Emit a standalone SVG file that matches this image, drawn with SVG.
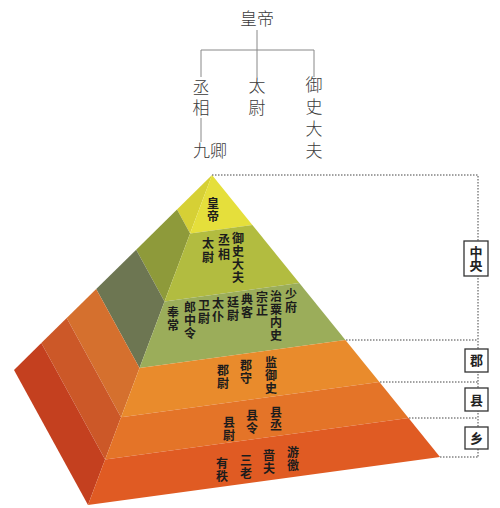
<svg xmlns="http://www.w3.org/2000/svg" width="500" height="508" viewBox="0 0 500 508">
<style>
.tree{font-family:"Noto Sans CJK SC","Noto Sans CJK JP",sans-serif;font-size:17px;font-weight:300;fill:#3a3a3a}
.v{writing-mode:vertical-rl}
.pt{font-family:"Noto Sans CJK SC","Noto Sans CJK JP",sans-serif;font-size:12px;font-weight:bold;fill:#1c1c1c;writing-mode:vertical-rl}
.bl{font-family:"Noto Sans CJK SC","Noto Sans CJK JP",sans-serif;font-size:13px;font-weight:bold;fill:#222}
.tl{stroke:#888;stroke-width:1;fill:none}
.dot{stroke:#444;stroke-width:1;stroke-dasharray:1.5 1.5;fill:none}
.box{fill:#fff;stroke:#333;stroke-width:1.3}
</style>
<rect width="500" height="508" fill="#fff"/>
<g id="tree">
<text class="tree" x="257" y="25" text-anchor="middle">皇帝</text>
<path class="tl" d="M257,30V77M201,50H314M201,50V77M314,50V77M201,118V142"/>
<text class="tree v" x="201" y="79" letter-spacing="3">丞相</text>
<text class="tree v" x="257" y="77" letter-spacing="5">太尉</text>
<text class="tree v" x="314" y="76" letter-spacing="5">御史大夫</text>
<text class="tree" x="210" y="157" text-anchor="middle">九卿</text>
</g>
<g id="pyramid">
<polygon points="212,175 177,209.5 190.1,233.4" fill="#d6d035"/>
<polygon points="177,209.5 136.2,249.7 164.5,301.4 190.1,233.4" fill="#8e9a3a"/>
<polygon points="136.2,249.7 96.2,289.1 139.5,368.1 164.5,301.4" fill="#6d7652"/>
<polygon points="96.2,289.1 66.7,318.1 121,417.2 139.5,368.1" fill="#d5702e"/>
<polygon points="66.7,318.1 41.3,343.1 105.1,459.5 121,417.2" fill="#cc5828"/>
<polygon points="41.3,343.1 14,370 88,505 105.1,459.5" fill="#c4401f"/>
<polygon points="212,175 252.4,224.9 190.1,233.4" fill="#e5df3b"/>
<polygon points="190.1,233.4 252.4,224.9 299.3,283 164.5,301.4" fill="#b2bc40"/>
<polygon points="164.5,301.4 299.3,283 345.4,340 139.5,368.1" fill="#9bad5a"/>
<polygon points="139.5,368.1 345.4,340 379.4,382 121,417.2" fill="#e98b2c"/>
<polygon points="121,417.2 379.4,382 408.5,418.1 105.1,459.5" fill="#e47428"/>
<polygon points="105.1,459.5 408.5,418.1 440,457 88,505" fill="#e05b23"/>
</g>
<g id="connectors">
<path class="dot" d="M212,175H478V457M346,340H478M380,382H478M409,418H478M440,457H478"/>
</g>
<g id="level-emperor">
<text class="pt" x="213" y="197.5" letter-spacing="1">皇帝</text>
</g>
<g id="level-sangong">
<text class="pt" x="208" y="237.5" letter-spacing="1.5">太尉</text>
<text class="pt" x="224" y="234.5" letter-spacing="1.5">丞相</text>
<text class="pt" x="238" y="232.5" letter-spacing="1">御史大夫</text>
</g>
<g id="level-jiuqing" letter-spacing="1">
<text class="pt" x="173" y="306.5">奉常</text>
<text class="pt" x="190" y="301.5">郎中令</text>
<text class="pt" x="204" y="299.5">卫尉</text>
<text class="pt" x="218" y="297.5">太仆</text>
<text class="pt" x="233" y="296.5">廷尉</text>
<text class="pt" x="247" y="293.5">典客</text>
<text class="pt" x="262" y="291.5">宗正</text>
<text class="pt" x="276" y="290.5">治粟内史</text>
<text class="pt" x="291" y="288.5">少府</text>
</g>
<g id="level-jun" letter-spacing="1">
<text class="pt" x="223" y="364.5">郡尉</text>
<text class="pt" x="246" y="359.5">郡守</text>
<text class="pt" x="271" y="356.5">监御史</text>
</g>
<g id="level-xian" letter-spacing="1">
<text class="pt" x="229" y="416.5">县尉</text>
<text class="pt" x="252" y="409.5">县令</text>
<text class="pt" x="276" y="406.5">县丞</text>
</g>
<g id="level-xiang" letter-spacing="1">
<text class="pt" x="222" y="457.5">有秩</text>
<text class="pt" x="246" y="454.5">三老</text>
<text class="pt" x="269" y="449.5">啬夫</text>
<text class="pt" x="293" y="446.5">游徼</text>
</g>
<g id="label-zhongyang">
<rect class="box" x="464" y="241" width="24" height="35"/>
<text class="bl v" x="476" y="245.5">中央</text>
</g>
<g id="label-jun">
<rect class="box" x="465" y="349" width="23" height="23"/>
<text class="bl" x="476.5" y="365" text-anchor="middle">郡</text>
</g>
<g id="label-xian">
<rect class="box" x="465" y="388" width="23" height="23"/>
<text class="bl" x="476.5" y="404.5" text-anchor="middle">县</text>
</g>
<g id="label-xiang">
<rect class="box" x="465" y="427" width="23" height="22"/>
<text class="bl" x="476.5" y="443" text-anchor="middle">乡</text>
</g>
</svg>
